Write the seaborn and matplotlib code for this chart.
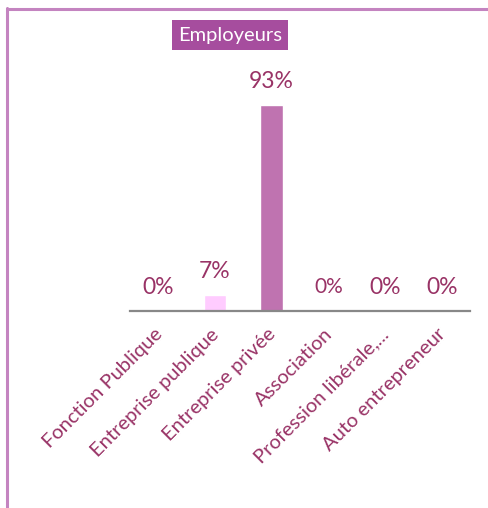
import pandas as pd
import numpy as np
import matplotlib.pyplot as plt
import matplotlib.transforms as mtrans
import seaborn as sns

# Data
categories = ['Fonction Publique', 'Entreprise publique', 'Entreprise privée',
              'Association', 'Profession libérale,...', 'Auto entrepreneur']
values = [0, 7, 93, 0, 0, 0]
labels = ['0%', '7%', '93%', '0%', '0%', '0%']
bar_colors = ['#BF73B0', '#FFCCFF', '#BF73B0', '#BF73B0', '#BF73B0', '#BF73B0']

df = pd.DataFrame({'cat': categories, 'val': values})

sns.set_style('white')
plt.rcParams['font.family'] = ['Lato', 'DejaVu Sans']
txt_color = '#993366'

fig = plt.figure(figsize=(4.88, 5.08), dpi=100)
ax = fig.add_axes([130/488, 1 - 311/508, 340/488, 221.5/508])

sns.barplot(data=df, x='cat', y='val', hue='cat', palette=bar_colors,
            width=0.4, legend=False, ax=ax, saturation=1)

ax.set_xlim(-0.5, 5.5)
ax.set_ylim(0, 100)
ax.set_xlabel('')
ax.set_ylabel('')
ax.set_yticks([])
sns.despine(ax=ax, left=True, top=True, right=True)
ax.spines['bottom'].set_color('#888888')
ax.spines['bottom'].set_linewidth(1.6)
ax.tick_params(axis='x', length=0, pad=4)
ax.set_xticks(range(len(categories)))
ax.set_xticklabels(categories, rotation=45, ha='right', rotation_mode='anchor',
                   color=txt_color, fontsize=14.5)
shift = mtrans.ScaledTranslation(-5/100, -9/100, fig.dpi_scale_trans)
for t in ax.get_xticklabels():
    t.set_transform(t.get_transform() + shift)

# value labels
for i, (v, lab) in enumerate(zip(values, labels)):
    fs = 15 if categories[i] == 'Association' else 16.5
    ax.annotate(lab, (i, v), xytext=(0, 24), textcoords='offset pixels',
                ha='center', va='center', color=txt_color, fontsize=fs,
                annotation_clip=False)

# title box
fig.text(230/488, 1 - 35/508, 'Employeurs', ha='center', va='center',
         color='white', fontsize=14.5,
         bbox=dict(boxstyle='square,pad=0.3', fc='#A64D9E', ec='none'))

# outer frame
frame_color = '#C484C0'
fig.add_artist(plt.Line2D([7/488, 7/488], [0, 1 - 8/508], color=frame_color, lw=2.2,
                          transform=fig.transFigure))
fig.add_artist(plt.Line2D([7/488, 1], [1 - 8.5/508, 1 - 8.5/508], color=frame_color, lw=2.2,
                          transform=fig.transFigure))

fig.savefig('out.png', dpi=100)
